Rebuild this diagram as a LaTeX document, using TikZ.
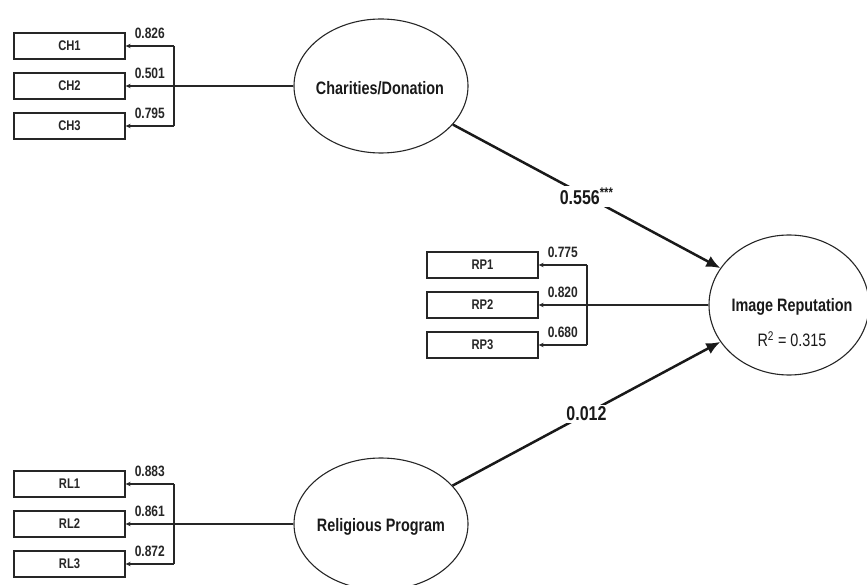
\documentclass[tikz,border=0pt]{standalone}
\usepackage{fontspec}
\setmainfont{Liberation Sans}[FakeStretch=0.8]
\usetikzlibrary{shapes.geometric,arrows.meta}
\begin{document}
\begin{tikzpicture}[x=1pt,y=-1pt,
  lat/.style={ellipse, draw=black!85, line width=1.1pt, inner sep=0pt},
  ind/.style={rectangle, draw=black!85, line width=1.3pt, minimum width=111pt, minimum height=26pt, inner sep=0pt, font=\bfseries\fontsize{14}{14}\selectfont, text=black!85},
  bar/.style={draw=black!85, line width=1.1pt},
  load/.style={draw=black!85, line width=1.1pt, -{Stealth[length=5pt,width=4.5pt]}},
  ldlab/.style={font=\bfseries\fontsize{15}{15}\selectfont, above=6pt, inner sep=1pt, text=black!85},
  pathar/.style={draw=black!90, line width=2.5pt, -{Latex[length=14pt,width=12pt]}},
  plab/.style={fill=white, font=\bfseries\fontsize{20}{20}\selectfont, inner sep=2pt, text=black!90},
  lattext/.style={font=\bfseries\fontsize{18}{18}\selectfont, text=black!90}
]
\useasboundingbox (0,0) rectangle (867,585);

% latent variables
\node[lat, minimum width=174pt, minimum height=134pt] (ch) at (381,86) {};
\node[lattext] (cht) at (380,88) {Charities/Donation};
\node[lat, minimum width=174pt, minimum height=132pt] (rl) at (381,524) {};
\node[lattext] (rlt) at (381,527) {Religious Program};
\node[lat, minimum width=160pt, minimum height=140pt] (ir) at (789,305) {};
\node[lattext] (irt) at (792,307) {Image Reputation};
\node[font=\fontsize{18}{18}\selectfont, text=black!90] (irr) at (792,339) {R\textsuperscript{2} = 0.315};

% indicators
\node[ind] (ch1) at (69.5,46) {CH1};
\node[ind] (ch2) at (69.5,86) {CH2};
\node[ind] (ch3) at (69.5,126) {CH3};
\node[ind] (rp1) at (482.5,265) {RP1};
\node[ind] (rp2) at (482.5,305) {RP2};
\node[ind] (rp3) at (482.5,345) {RP3};
\node[ind] (rl1) at (69.5,484) {RL1};
\node[ind] (rl2) at (69.5,524) {RL2};
\node[ind] (rl3) at (69.5,564) {RL3};

% Charities loadings
\coordinate (chb) at (174,86);
\draw[load] (ch.west) -- (ch2.east);
\draw[bar] (ch1.east -| chb) -- (ch3.east -| chb);
\draw[load] (ch1.east -| chb) -- node[ldlab]{0.826} (ch1.east);
\path (chb) -- node[ldlab]{0.501} (ch2.east);
\draw[load] (ch3.east -| chb) -- node[ldlab]{0.795} (ch3.east);

% Image reputation loadings
\coordinate (rpb) at (587,305);
\draw[load] (ir.west) -- (rp2.east);
\draw[bar] (rp1.east -| rpb) -- (rp3.east -| rpb);
\draw[load] (rp1.east -| rpb) -- node[ldlab]{0.775} (rp1.east);
\path (rpb) -- node[ldlab]{0.820} (rp2.east);
\draw[load] (rp3.east -| rpb) -- node[ldlab]{0.680} (rp3.east);

% Religious loadings
\coordinate (rlb) at (174,524);
\draw[load] (rl.west) -- (rl2.east);
\draw[bar] (rl1.east -| rlb) -- (rl3.east -| rlb);
\draw[load] (rl1.east -| rlb) -- node[ldlab]{0.883} (rl1.east);
\path (rlb) -- node[ldlab]{0.861} (rl2.east);
\draw[load] (rl3.east -| rlb) -- node[ldlab]{0.872} (rl3.east);

% structural paths
\draw[pathar] (ch) -- node[plab]{0.556\textsuperscript{***}} (ir);
\draw[pathar] (rl) -- node[plab]{0.012} (ir);
\end{tikzpicture}
\end{document}
